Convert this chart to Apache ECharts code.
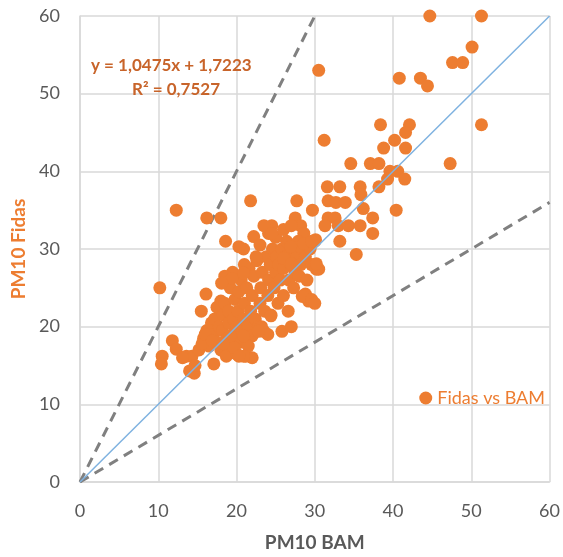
<!DOCTYPE html>
<html>
<head>
<meta charset="utf-8">
<script src="https://cdn.jsdelivr.net/npm/echarts@6/dist/echarts.min.js"></script>
<style>
html,body{margin:0;padding:0;background:#fff;}
#chart{width:563px;height:557px;}
</style>
</head>
<body>
<div id="chart"></div>
<script>
// PM10 BAM (x) and PM10 Fidas (y) pairs
var bamValues = [
44.7,51.3,50.1,47.6,48.9,40.8,43.5,44.4,30.5,
51.3,38.4,42.1,41.6,40.2,31.2,41.6,38.8,
47.3,34.6,37.1,38.2,39.6,40.6,41.5,39.3,38.2,
33.2,35.8,35.9,31.6,31.7,32.7,33.9,27.7,
29.7,36.2,40.4,31.7,32.6,27.5,37.4,31.3,33.0,34.3,35.8,28.2,28.6,37.4,33.2,30.1,35.3,30.5,26.6,
12.3,16.2,18.0,21.8,10.2,15.5,16.1,18.0,24.5,24.1,18.6,20.9,
11.8,12.3,10.5,10.4,13.6,14.3,14.6,17.1,
15.2,15.8,16.2,16.5,16.8,17.0,17.2,17.5,17.5,17.8,18.0,18.2,18.3,18.5,18.7,18.8,19.0,19.0,19.2,19.4,19.5,19.6,19.8,20.0,20.0,20.2,20.3,20.5,20.6,20.8,20.9,21.0,21.2,21.3,21.5,21.6,21.8,22.0,22.0,22.2,22.4,22.6,22.8,23.0,23.1,23.3,23.5,23.6,23.8,24.0,24.1,24.3,24.4,24.6,24.8,25.0,25.1,25.3,25.4,25.6,25.8,25.8,26.0,26.0,26.2,26.4,26.6,26.7,26.9,27.1,27.3,27.5,27.7,27.9,28.0,28.2,28.4,28.6,28.8,29.0,29.2,29.4,29.6,30.0,30.2,28.8,
22.2,20.3,23.5,25.0,21.0,19.5,18.5,24.5,26.0,27.0,23.0,
23.2,28.4,29.6,22.0,24.0,27.0,21.5,30.0,20.9,
22.5,20.9,19.4,18.1,26.9,28.6,29.6,26.0,30.2,27.0,
13.1,14.0,14.7,15.6,16.0,16.9,19.2,19.7,20.3,22.8,24.4,18.3,20.9
];
var fidasValues = [
60,60,56,54,54,52,52,51,53,
46,46,46,45,44,44,43,43,
41,41,41,41,40,40,39,39,38,
38,38,37,38,36.2,36,36,36.2,
35,35.2,35,34,34,34,34,33,33,33,33,33,32,32,31,31.2,29.3,27.4,30.7,
35,34,34,36.2,25,22,24.2,23.3,33,32,31,30,
18.2,17.1,16.2,15.2,16.2,16.2,14,15.2,
17,18.5,19.5,17.5,20.5,19,21,18,22.5,20,17,19.5,21.5,23,16.2,18.5,20.5,22,25,17.5,19,21,23.5,16.5,20,22,24.5,18,26,19.5,21,23,16.2,25,20,27.5,22,18.8,24,26.5,21,28.5,20,23,25,27,19.4,22,29,24,26,28,21.5,30,25,27,29,23,28,26,19.4,30,24,27.5,29,31,22,26,28,30,25,27,29,31,26.5,28,30,24,29,26,23.3,30,28,31,27.4,24.2,
31.6,30.3,33,31.5,28,27,26.5,32,32.5,33,30.5,
20,23.9,23.5,16,19,20,17.5,23,16.2,
29,26.9,26.2,25.6,30.3,30.7,31,28.8,28.1,28.1,
16,14.3,15,17.8,19,18.2,18.8,17.3,16.2,19.4,21.4,17.8,18.8
];
var scatterData = bamValues.map(function(x, i){ return [x, fidasValues[i]]; });

// reference lines
var oneToOne = [[0,0],[60,60]];
var upperBound = [[0,0],[30,60]];
var lowerBound = [[0,0],[60,36]];

var xTicks = [0,10,20,30,40,50,60];
var yTicks = [0,10,20,30,40,50,60];

var font = 'Lato, "Open Sans", sans-serif';
var chart = echarts.init(document.getElementById('chart'), null, {renderer:'canvas'});
chart.setOption({
  animation:false,
  backgroundColor:'#ffffff',
  textStyle:{fontFamily:font},
  grid:{left:80, right:10, top:16, bottom:70},
  xAxis:{
    type:'value', min:xTicks[0], max:xTicks[xTicks.length-1], interval:10,
    name:'PM10 BAM', nameLocation:'middle', nameGap:51,
    nameTextStyle:{color:'#595959', fontSize:19, fontWeight:'bold', fontFamily:font},
    axisLine:{show:true, lineStyle:{color:'#D9D9D9', width:1.5}},
    axisTick:{show:false},
    axisLabel:{color:'#595959', fontSize:18, margin:20, fontFamily:font},
    splitLine:{show:true, lineStyle:{color:'#D9D9D9', width:1.5}}
  },
  yAxis:{
    type:'value', min:yTicks[0], max:yTicks[yTicks.length-1], interval:10,
    name:'PM10 Fidas', nameLocation:'middle', nameGap:52, nameRotate:90,
    nameTextStyle:{color:'#ED7D31', fontSize:19, fontWeight:'bold', fontFamily:font},
    axisLine:{show:true, lineStyle:{color:'#D9D9D9', width:1.5}},
    axisTick:{show:false},
    axisLabel:{color:'#595959', fontSize:18, margin:20, fontFamily:font},
    splitLine:{show:true, lineStyle:{color:'#D9D9D9', width:1.5}}
  },
  legend:{
    data:[{name:'Fidas vs BAM', icon:'circle'}],
    right:13, top:384, itemWidth:13, itemHeight:13, itemGap:4,
    textStyle:{color:'#ED7D31', fontSize:18, fontFamily:font}
  },
  graphic:[
    {type:'text', left:91, top:57, style:{text:'y = 1,0475x + 1,7223', fill:'#C8642A', font:'bold 17px ' + font}, z:100},
    {type:'text', left:132, top:81, style:{text:'R² = 0,7527', fill:'#C8642A', font:'bold 17px ' + font}, z:100}
  ],
  series:[
    {type:'line', data:upperBound, symbol:'none', silent:true, z:1,
     lineStyle:{color:'#808080', width:3, type:[10,7]}},
    {type:'line', data:lowerBound, symbol:'none', silent:true, z:1,
     lineStyle:{color:'#808080', width:3, type:[10,7]}},
    {name:'Fidas vs BAM', type:'scatter', data:scatterData, symbol:'circle', symbolSize:13, z:2,
     itemStyle:{color:'#ED7D31', opacity:1}},
    {type:'line', data:oneToOne, symbol:'none', silent:true, z:3,
     lineStyle:{color:'#7FB2E0', width:1.5}}
  ]
});
</script>
</body>
</html>
